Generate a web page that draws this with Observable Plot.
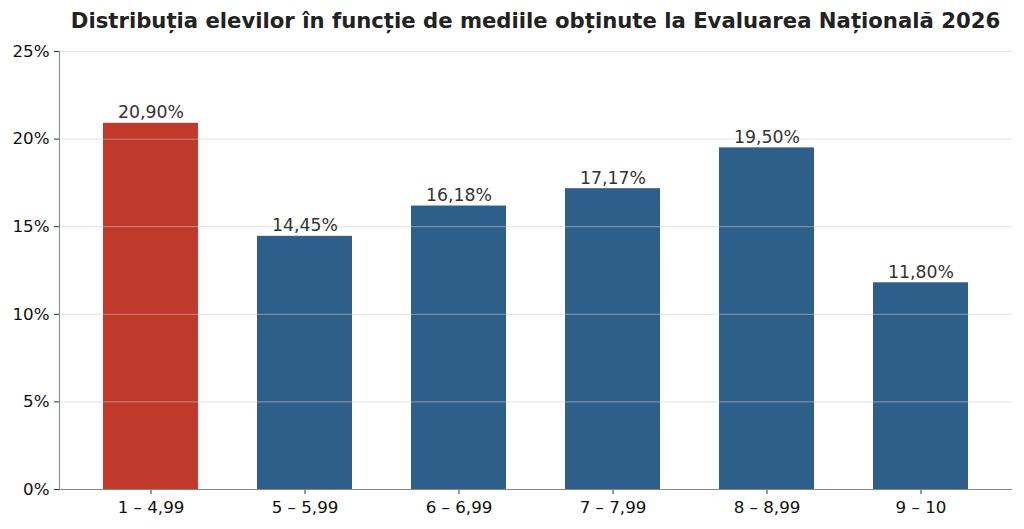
<!DOCTYPE html>
<html>
<head>
<meta charset="utf-8">
<script src="https://cdn.jsdelivr.net/npm/d3@7"></script>
<script src="https://cdn.jsdelivr.net/npm/@observablehq/plot@0.6"></script>
<style>
  html, body { margin: 0; padding: 0; background: #fff; }
  #title {
    width: 1024px; height: 40px; box-sizing: border-box;
    font-family: "DejaVu Sans", sans-serif; font-weight: bold; font-size: 21.2px;
    color: #222; text-align: center; padding-left: 47px; padding-top: 8px;
    white-space: nowrap;
  }
</style>
</head>
<body>
<div id="title">Distribuția elevilor în funcție de mediile obținute la Evaluarea Națională 2026</div>
<div id="chart"></div>
<script>
const categories = ["1 – 4,99", "5 – 5,99", "6 – 6,99", "7 – 7,99", "8 – 8,99", "9 – 10"];
const values = [20.90, 14.45, 16.18, 17.17, 19.50, 11.80];
const colors = ["#c0392b", "#2e5f8b", "#2e5f8b", "#2e5f8b", "#2e5f8b", "#2e5f8b"];
const yTicks = [0, 5, 10, 15, 20, 25];

const data = categories.map((c, i) => ({cat: c, val: values[i], color: colors[i]}));
const fmt = v => v.toFixed(2).replace(".", ",") + "%";

const chart = Plot.plot({
  width: 1024,
  height: 489,
  marginLeft: 59,
  marginRight: 12,
  marginTop: 11,
  marginBottom: 40,
  style: {fontFamily: "DejaVu Sans, sans-serif", fontSize: "16.7px", color: "#222", background: "#fff"},
  x: {domain: categories, paddingInner: 0.38, paddingOuter: 0.284, label: null},
  y: {domain: [0, 25], label: null},
  marks: [
    Plot.barY(data, {x: "cat", y: "val", fill: "color"}),
    Plot.gridY(yTicks, {stroke: "#cccccc", strokeOpacity: 0.55, strokeWidth: 1}),
    Plot.text(data, {x: "cat", y: "val", text: d => fmt(d.val), lineAnchor: "bottom", dy: -5, fill: "#333", fontSize: 17.3}),
    Plot.axisY(yTicks, {tickFormat: d => d + "%", tickSize: 5, tickPadding: 5, stroke: "#333", fill: "#111", fontSize: 16.7, label: null}),
    Plot.axisX({tickSize: 5, tickPadding: 7, stroke: "#333", fill: "#111", fontSize: 16.7, label: null}),
    Plot.ruleY([0], {stroke: "#888", strokeWidth: 1}),
    Plot.frame({anchor: "left", stroke: "#888", strokeWidth: 1})
  ]
});
document.getElementById("chart").appendChild(chart);
</script>
</body>
</html>
